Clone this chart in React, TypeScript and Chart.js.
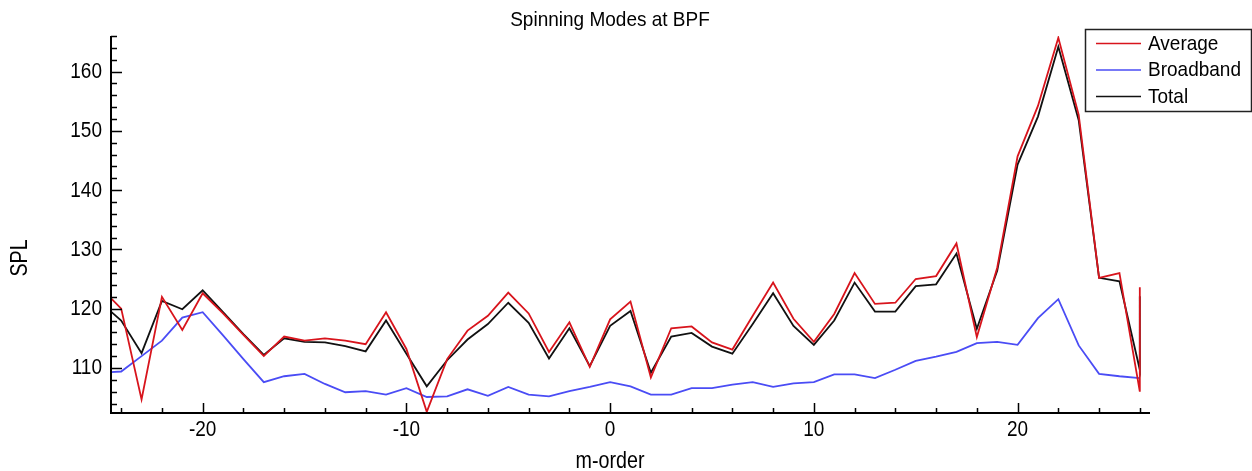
import { useEffect, useRef } from "react";
import { Chart, registerables } from "chart.js";

Chart.register(...registerables);

// m-order values (the last entry repeats m = 26: the source data closes on a second sample there)
const mOrder = [
  -25, -24, -23, -22, -21, -20, -19, -18, -17, -16, -15, -14, -13, -12, -11, -10, -9, -8, -7, -6, -5, -4, -3, -2, -1,
  0, 1, 2, 3, 4, 5, 6, 7, 8, 9, 10, 11, 12, 13, 14, 15, 16, 17, 18, 19, 20, 21, 22, 23, 24, 25, 26, 26,
];

const average = [
  123.5, 120.0, 104.7, 122.0, 116.4, 122.6, 119.2, 115.6, 112.0, 115.3, 114.6, 115.0, 114.6, 114.0, 119.4, 113.2, 102.6, 111.5,
  116.3, 118.8, 122.7, 119.2, 112.7, 117.7, 110.2,
  118.2, 121.2, 108.4, 116.7, 117.0, 114.3, 113.1, 118.8, 124.4, 118.3, 114.4, 119.1, 126.0, 120.8, 121.0, 125.0, 125.5,
  131.0, 115.2, 126.9, 145.7, 154.2, 165.7, 152.7, 125.2, 126.0, 106.0, 123.6,
];

const broadband = [
  109.2, 109.4, 112.0, 114.6, 118.5, 119.4, 115.5, 111.5, 107.6, 108.6, 109.0, 107.3, 105.9, 106.1, 105.5, 106.6, 105.1, 105.2,
  106.4, 105.3, 106.8, 105.5, 105.2, 106.1, 106.8,
  107.6, 106.9, 105.5, 105.5, 106.6, 106.6, 107.2, 107.6, 106.8, 107.4, 107.6, 108.9, 108.9, 108.3, 109.7, 111.2, 111.9,
  112.7, 114.2, 114.4, 113.9, 118.4, 121.6, 113.8, 109.0, 108.6, 108.3, 108.3,
];

const total = [
  121.0, 118.0, 112.5, 121.3, 119.9, 123.1, 119.4, 115.7, 112.2, 115.0, 114.4, 114.3, 113.7, 112.8, 118.0, 112.4, 106.9, 111.3,
  114.8, 117.4, 121.0, 117.6, 111.6, 116.7, 110.3,
  117.1, 119.6, 109.2, 115.3, 115.9, 113.6, 112.4, 117.4, 122.6, 117.1, 113.9, 118.0, 124.4, 119.5, 119.5, 123.8, 124.1,
  129.3, 116.6, 126.4, 144.3, 152.4, 164.2, 151.8, 125.2, 124.6, 109.7, 122.1,
];

const xTickValues = [-20, -10, 0, 10, 20];
const yTickValues = [110, 120, 130, 140, 150, 160];
const titleText = "Spinning Modes at BPF";
const xTitle = "m-order";
const yTitle = "SPL";
const seriesNames = ["Average", "Broadband", "Total"];
const seriesColors = ["#d8141c", "#4a4cf5", "#111111"];

const FONT = "'Liberation Sans', Arial, sans-serif";

function stretchedText(
  ctx: CanvasRenderingContext2D,
  text: string,
  x: number,
  y: number,
  sx: number,
  sy: number,
  rot = 0
) {
  ctx.save();
  ctx.translate(x, y);
  if (rot) ctx.rotate(rot);
  ctx.scale(sx, sy);
  ctx.fillText(text, 0, 0);
  ctx.restore();
}

export default function App() {
  const ref = useRef<HTMLCanvasElement>(null);

  useEffect(() => {
    document.body.style.margin = "0";
    const canvas = ref.current;
    if (!canvas) return;

    const toPts = (arr: number[]) => mOrder.map((m, i) => ({ x: m, y: arr[i] }));
    const seriesData = [average, broadband, total];

    const decor = {
      id: "decor",
      afterDraw(chart: any) {
        const ctx = chart.ctx as CanvasRenderingContext2D;
        const { left, right, top, bottom } = chart.chartArea;
        const xs = chart.scales.x;
        const ys = chart.scales.y;
        ctx.save();
        ctx.strokeStyle = "#000";
        ctx.lineWidth = 2;
        // axis lines
        ctx.beginPath();
        ctx.moveTo(left, top);
        ctx.lineTo(left, bottom);
        ctx.lineTo(right, bottom);
        ctx.stroke();
        // inward ticks
        ctx.lineWidth = 1.5;
        ctx.beginPath();
        for (let v = -24; v <= 26; v += 2) {
          const px = Math.round(xs.getPixelForValue(v)) + 0.5;
          const len = v % 10 === 0 ? 10 : 5;
          ctx.moveTo(px, bottom);
          ctx.lineTo(px, bottom - len);
        }
        for (let v = 104; v <= 166; v += 2) {
          const py = Math.round(ys.getPixelForValue(v)) + 0.5;
          const len = v % 10 === 0 ? 11 : 6;
          ctx.moveTo(left, py);
          ctx.lineTo(left + len, py);
        }
        ctx.stroke();

        ctx.fillStyle = "#000";
        // tick labels
        ctx.font = `19px ${FONT}`;
        ctx.textBaseline = "middle";
        ctx.textAlign = "center";
        xTickValues.forEach((v) => {
          stretchedText(ctx, String(v), xs.getPixelForValue(v), 430, 1, 1.14);
        });
        ctx.textAlign = "right";
        yTickValues.forEach((v) => {
          stretchedText(ctx, String(v), 102, ys.getPixelForValue(v) + 0.5, 1, 1.14);
        });

        // title
        ctx.textAlign = "center";
        ctx.textBaseline = "alphabetic";
        stretchedText(ctx, titleText, 610, 25.5, 1, 1.06);

        // x title (narrow look)
        ctx.font = `24px ${FONT}`;
        stretchedText(ctx, xTitle, 610, 468, 0.82, 1);

        // y title
        stretchedText(ctx, yTitle, 27, 258, 0.82, 1, -Math.PI / 2);

        // legend
        const bx = 1085.5, by = 29.5, bw = 166, bh = 82;
        ctx.fillStyle = "#fff";
        ctx.fillRect(bx, by, bw, bh);
        ctx.strokeStyle = "#222";
        ctx.lineWidth = 1.5;
        ctx.strokeRect(bx, by, bw, bh);
        const rows = [43.5, 70, 96.5];
        ctx.font = `19px ${FONT}`;
        ctx.textAlign = "left";
        ctx.textBaseline = "middle";
        seriesNames.forEach((name, i) => {
          ctx.strokeStyle = seriesColors[i];
          ctx.lineWidth = 1.5;
          ctx.beginPath();
          ctx.moveTo(1096, rows[i]);
          ctx.lineTo(1141, rows[i]);
          ctx.stroke();
          ctx.fillStyle = "#000";
          stretchedText(ctx, name, 1148, rows[i] + 0.5, 1, 1.1);
        });
        ctx.restore();
      },
    };

    const chart = new Chart(canvas, {
      type: "line",
      data: {
        datasets: seriesNames.map((name, i) => ({
          label: name,
          data: toPts(seriesData[i]),
          borderColor: seriesColors[i],
          backgroundColor: seriesColors[i],
          borderWidth: 1.8,
          pointRadius: 0,
          tension: 0,
          fill: false,
        })),
      },
      options: {
        animation: false,
        responsive: false,
        devicePixelRatio: 1,
        parsing: false,
        layout: { padding: { left: 0, right: 102, top: 36, bottom: 0 } },
        plugins: {
          legend: { display: false },
          tooltip: { enabled: false },
          title: { display: false },
        },
        scales: {
          x: {
            type: "linear",
            min: -24.5,
            max: 26.5,
            afterFit(s: any) {
              s.height = 58;
            },
            afterBuildTicks(s: any) {
              s.ticks = xTickValues.map((v) => ({ value: v }));
            },
            grid: { display: false, drawTicks: false },
            border: { display: false },
            ticks: { display: false },
          },
          y: {
            type: "linear",
            min: 102.4,
            max: 166,
            afterFit(s: any) {
              s.width = 111;
            },
            afterBuildTicks(s: any) {
              s.ticks = yTickValues.map((v) => ({ value: v }));
            },
            grid: { display: false, drawTicks: false },
            border: { display: false },
            ticks: { display: false },
          },
        },
      },
      plugins: [decor],
    } as any);

    return () => chart.destroy();
  }, []);

  return <canvas ref={ref} width={1252} height={471} style={{ display: "block" }} />;
}
